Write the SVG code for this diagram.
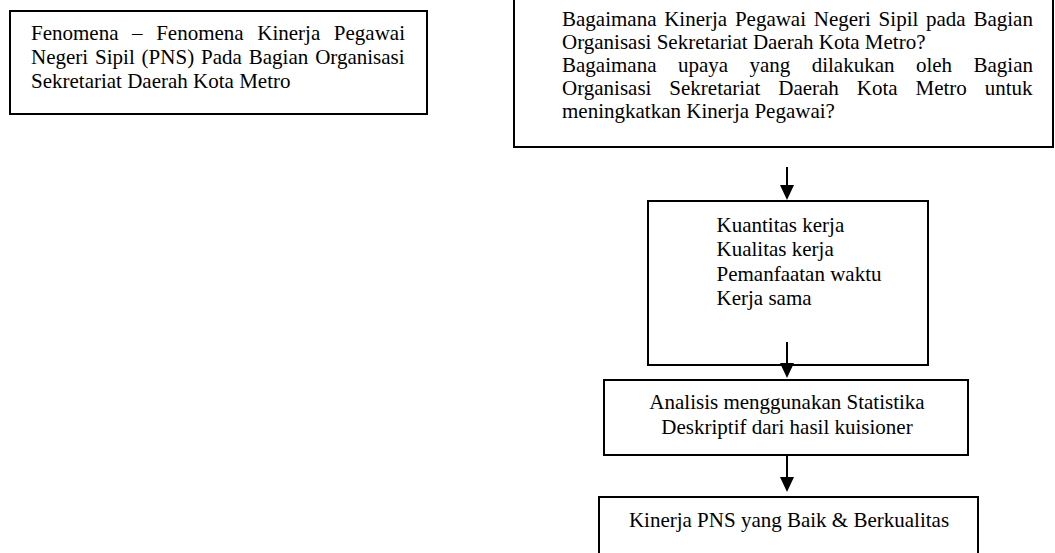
<svg xmlns="http://www.w3.org/2000/svg" width="1055" height="553" viewBox="0 0 1055 553">
<style>
.box{fill:#fff;stroke:#000;stroke-width:2}
.t{font-family:"Liberation Serif","Times New Roman",serif;font-size:21px;fill:#000}
.c{text-anchor:middle}
.con{stroke:#000;stroke-width:2;fill:none}
</style>
<defs>
<marker id="ah" markerUnits="userSpaceOnUse" markerWidth="15" markerHeight="14" viewBox="0 0 15 14" refX="7" refY="7" orient="auto">
<path d="M0,0 L15,7 L0,14 z" fill="#000"/>
</marker>
</defs>
<rect width="1055" height="553" fill="#fff"/>
<g id="fenomena">
<rect class="box" x="10" y="11" width="417" height="103"/>
<text class="t" x="31" y="39.5" word-spacing="8.35">Fenomena – Fenomena Kinerja Pegawai</text>
<text class="t" x="31" y="63.5" word-spacing="1.65">Negeri Sipil (PNS) Pada Bagian Organisasi</text>
<text class="t" x="31" y="87.5">Sekretariat Daerah Kota Metro</text>
</g>
<g id="rumusan">
<rect class="box" x="514" y="-5" width="539" height="152"/>
<text class="t" x="562" y="25.5" word-spacing="2.48">Bagaimana Kinerja Pegawai Negeri Sipil pada Bagian</text>
<text class="t" x="562" y="48.5">Organisasi Sekretariat Daerah Kota Metro?</text>
<text class="t" x="562" y="71.5" word-spacing="16.17">Bagaimana upaya yang dilakukan oleh Bagian</text>
<text class="t" x="562" y="94.5" word-spacing="12.67">Organisasi Sekretariat Daerah Kota Metro untuk</text>
<text class="t" x="562" y="117.5">meningkatkan Kinerja Pegawai?</text>
</g>
<g id="indikator">
<rect class="box" x="648" y="201" width="280" height="164"/>
<text class="t" x="716.5" y="231.5">Kuantitas kerja</text>
<text class="t" x="716.5" y="256">Kualitas kerja</text>
<text class="t" x="716.5" y="280.5">Pemanfaatan waktu</text>
<text class="t" x="716.5" y="305">Kerja sama</text>
</g>
<g id="analisis">
<rect class="box" x="604" y="380" width="364" height="75"/>
<text class="t c" x="787" y="408.5">Analisis menggunakan Statistika</text>
<text class="t c" x="787" y="433.5">Deskriptif dari hasil kuisioner</text>
</g>
<g id="hasil">
<rect class="box" x="599" y="497" width="379" height="70"/>
<text class="t c" x="789" y="527">Kinerja PNS yang Baik &amp; Berkualitas</text>
</g>
<g id="connectors">
<line class="con" x1="787" y1="167" x2="787" y2="192" marker-end="url(#ah)"/>
<line class="con" x1="787" y1="342" x2="787" y2="370" marker-end="url(#ah)"/>
<line class="con" x1="787" y1="455" x2="787" y2="484" marker-end="url(#ah)"/>
</g>
</svg>
